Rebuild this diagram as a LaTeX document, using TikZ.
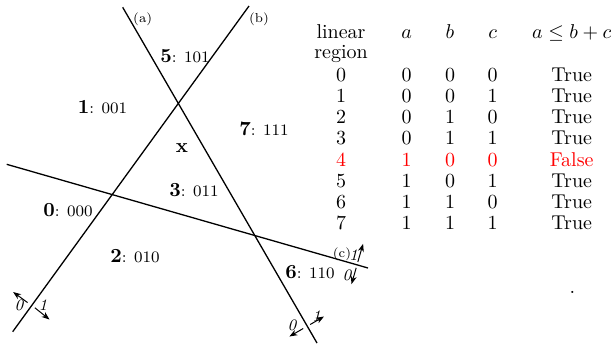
\documentclass[tikz,border=0pt]{standalone}
\usetikzlibrary{arrows.meta}
\begin{document}
\begin{tikzpicture}[x=0.5pt,y=-0.5pt,
  hline/.style={line width=0.65pt},
  harrow/.style={line width=0.5pt,-{Stealth[length=4pt,width=3pt]}},
  reg/.style={inner sep=0pt},
  lbl/.style={inner sep=0pt,font=\fontsize{6.5}{8}\selectfont},
  side/.style={inner sep=0pt,font=\footnotesize\itshape},
  cell/.style={inner sep=0pt,text height=1.5ex,text depth=.25ex},
  bad/.style={cell,text=red}]
\useasboundingbox (0,0) rectangle (616,344);
% hyperplanes
\coordinate (a1) at (122.7,7.3);  \coordinate (a2) at (317,343);
\coordinate (b1) at (12.7,331.7); \coordinate (b2) at (249,6);
\coordinate (c1) at (6.7,164.3);  \coordinate (c2) at (368,268);
\draw[hline] (a1) -- (a2);
\draw[hline] (b1) -- (b2);
\draw[hline] (c1) -- (c2);
% line labels
\node[lbl] (la) at (142.7,19) {(a)};
\node[lbl] (lb) at (259,19) {(b)};
\node[lbl] (lc) at (342,254) {(c)};
% orientation arrows on (b)
\coordinate (b0s) at (27.6,302.6); \coordinate (b0e) at (13.1,292.0);
\coordinate (b1s) at (34.9,307.8); \coordinate (b1e) at (49.5,319.5);
\draw[harrow] (b0s) -- (b0e);
\draw[harrow] (b1s) -- (b1e);
\node[side] (b0) at (19,305) {0};
\node[side] (b1l) at (43,305) {1};
% orientation arrows on (a)
\coordinate (a0s) at (303.2,328.5); \coordinate (a0e) at (289.4,336.5);
\coordinate (a1s) at (310.2,324.5); \coordinate (a1e) at (324,316.5);
\draw[harrow] (a0s) -- (a0e);
\draw[harrow] (a1s) -- (a1e);
\node[side] (a0) at (292,325) {0};
\node[side] (a1l) at (316.5,316) {1};
% orientation arrows on (c)
\coordinate (c1s) at (357.8,262); \coordinate (c1e) at (363.1,243.8);
\coordinate (c0s) at (356.2,267.8); \coordinate (c0e) at (351.5,284.1);
\draw[harrow] (c1s) -- (c1e);
\draw[harrow] (c0s) -- (c0e);
\node[side] (c1l) at (353.5,255) {1};
\node[side] (c0) at (347,275) {0};
% regions
\node[reg] (r5) at (185,56) {\textbf{5}{\footnotesize: 101}};
\node[reg] (r1) at (102.5,107) {\textbf{1}{\footnotesize: 001}};
\node[reg] (r7) at (264,129) {\textbf{7}{\footnotesize: 111}};
\node[reg] (rx) at (182,148) {$\mathbf{x}$};
\node[reg] (r3) at (194,190) {\textbf{3}{\footnotesize: 011}};
\node[reg] (r0) at (68,210) {\textbf{0}{\footnotesize: 000}};
\node[reg] (r2) at (135,256) {\textbf{2}{\footnotesize: 010}};
\node[reg] (r6) at (310,272) {\textbf{6}{\footnotesize: 110}};
% table
\node[cell] (h1) at (341,33.3) {linear};
\node[cell] (h2) at (341,53.3) {region};
\node[cell] (ha) at (406.7,33.3) {$a$};
\node[cell] (hb) at (450,33.3) {$b$};
\node[cell] (hc) at (492.7,33.3) {$c$};
\node[cell] (hr) at (571.7,33.3) {$a\leq b+c$};
\foreach \r/\aa/\bb/\cc/\t [count=\i from 0] in {0/0/0/0/True,1/0/0/1/True,2/0/1/0/True,3/0/1/1/True,4/1/0/0/False,5/1/0/1/True,6/1/1/0/True,7/1/1/1/True}{
  \pgfmathsetmacro{\yy}{76+21.2*\i}
  \ifnum\i=4 \tikzset{cur/.style={bad}}\else\tikzset{cur/.style={cell}}\fi
  \node[cur] (t\i r) at (341,\yy) {\r};
  \node[cur] (t\i a) at (406.7,\yy) {\aa};
  \node[cur] (t\i b) at (450,\yy) {\bb};
  \node[cur] (t\i c) at (492.7,\yy) {\cc};
  \node[cur] (t\i t) at (571.7,\yy) {\t};
}
\node[inner sep=0pt] (dot) at (572.5,292) {.};
\end{tikzpicture}
\end{document}
